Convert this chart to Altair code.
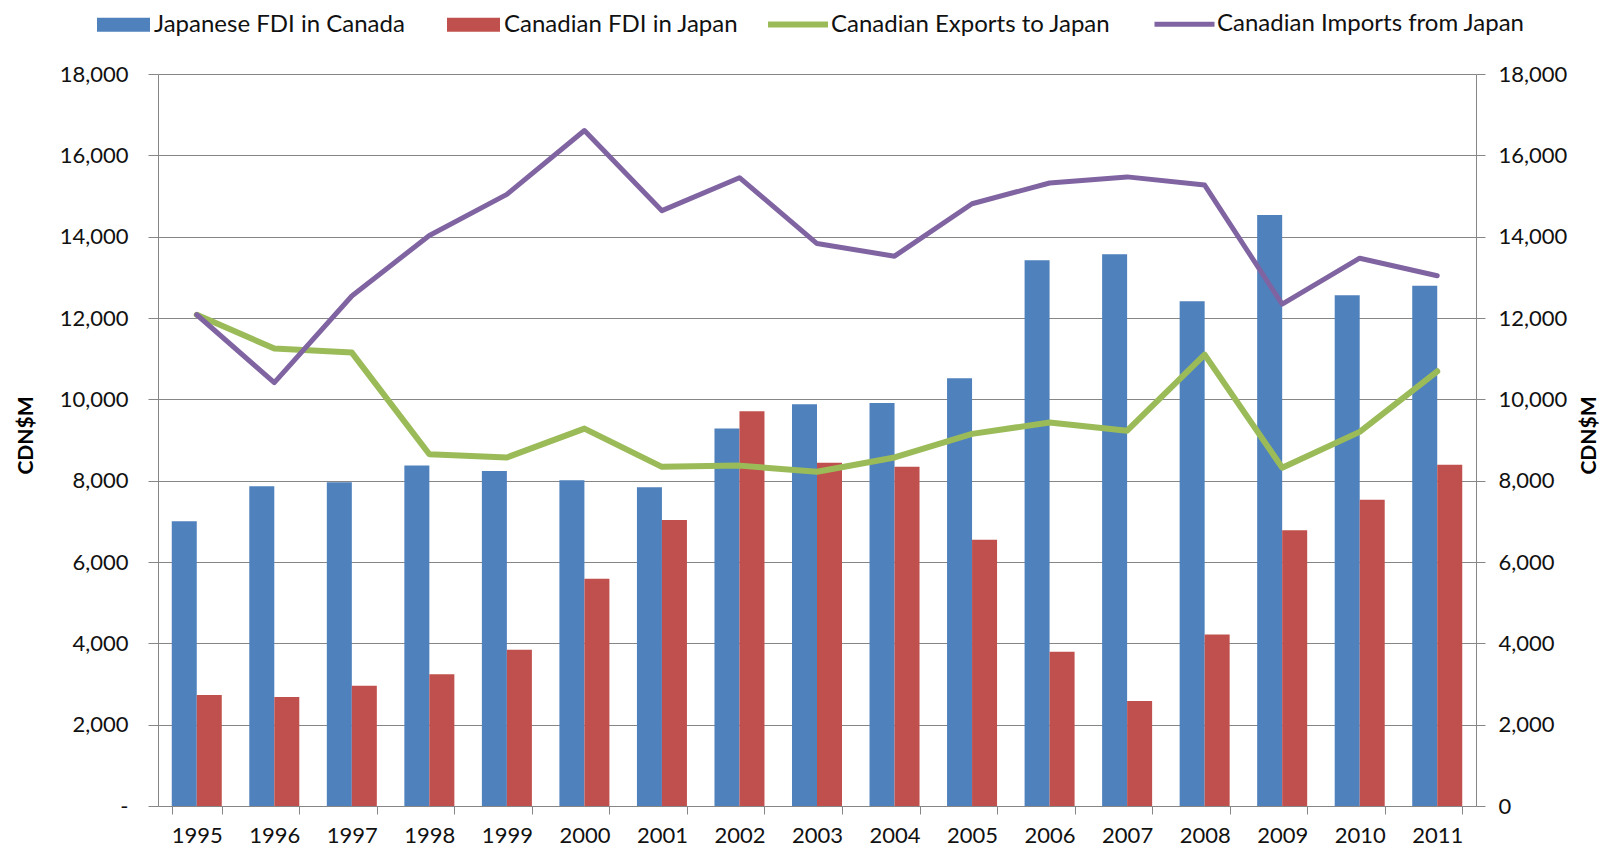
import altair as alt
import pandas as pd

years = [str(y) for y in range(1995, 2012)]
jp_fdi_in_canada = [7000, 7860, 7960, 8370, 8240, 8010, 7840, 9280, 9880, 9910,
                    10520, 13420, 13570, 12410, 14530, 12560, 12790]
ca_fdi_in_japan = [2730, 2680, 2960, 3240, 3840, 5590, 7030, 9710, 8440, 8340,
                   6550, 3790, 2580, 4220, 6780, 7530, 8390]
ca_exports_to_japan = [12080, 11250, 11150, 8650, 8570, 9280, 8340, 8370, 8220, 8570,
                       9150, 9430, 9230, 11100, 8320, 9200, 10690]
ca_imports_from_japan = [12080, 10410, 12540, 14030, 15040, 16610, 14640, 15450, 13830, 13520,
                         14810, 15320, 15470, 15270, 12340, 13470, 13040]

bar_series = ["Japanese FDI in Canada", "Canadian FDI in Japan"]
line_series = ["Canadian Exports to Japan", "Canadian Imports from Japan"]
bar_colors = ["#4F81BD", "#C0504D"]
line_colors = ["#9BBB59", "#8064A2"]
tick_values = list(range(0, 18001, 2000))

df = pd.DataFrame({
    "Year": years,
    bar_series[0]: jp_fdi_in_canada,
    bar_series[1]: ca_fdi_in_japan,
    line_series[0]: ca_exports_to_japan,
    line_series[1]: ca_imports_from_japan,
})

GRAY = "#868686"
FONT = "Lato"

x_enc = alt.X(
    "Year:N", sort=years,
    scale=alt.Scale(paddingInner=0.355, paddingOuter=0.1775),
    axis=alt.Axis(title=None, labelAngle=0, tickBand="extent", tickSize=8,
                  labelPadding=11, grid=False, domainColor=GRAY, tickColor=GRAY,
                  labelFont=FONT, labelFontSize=22, labelColor="#111111"),
)

base = alt.Chart(df)

bars = base.transform_fold(bar_series, as_=["series", "value"]).mark_bar().encode(
    x=x_enc,
    xOffset=alt.XOffset("series:N", sort=bar_series,
                        scale=alt.Scale(paddingInner=0, paddingOuter=0)),
    y=alt.Y("value:Q", scale=alt.Scale(domain=[0, 18000], nice=False),
            axis=alt.Axis(values=tick_values, title="CDN$M",
                          labelExpr="datum.value == 0 ? '-' : format(datum.value, ',')",
                          tickSize=10, labelPadding=20, grid=True, gridColor=GRAY,
                          domainColor=GRAY, tickColor=GRAY,
                          labelFont=FONT, labelFontSize=22, labelColor="#111111",
                          titleFont=FONT, titleFontSize=21, titleFontWeight="bold",
                          titleColor="#000000", titleAngle=270, titleAlign="center",
                          titleBaseline="middle", titleX=-132, titleY=361)),
    fill=alt.Fill("series:N", sort=bar_series,
                  scale=alt.Scale(domain=bar_series, range=bar_colors),
                  legend=alt.Legend(orient="none", legendX=-61, legendY=-76,
                                    direction="horizontal", title=None,
                                    symbolType="M-1,-0.264H1V0.264H-1Z",
                                    symbolSize=2809, symbolStrokeWidth=0,
                                    labelFont=FONT, labelFontSize=24, labelLimit=0,
                                    labelColor="#111111", labelOffset=4,
                                    columnPadding=42, padding=0)),
)

lines = base.transform_fold(line_series, as_=["series", "value"]).mark_line(
    strokeCap="round", strokeJoin="round"
).encode(
    x=x_enc,
    y=alt.Y("value:Q", scale=alt.Scale(domain=[0, 18000], nice=False),
            axis=alt.Axis(orient="right", values=tick_values, title="CDN$M",
                          labelExpr="format(datum.value, ',')",
                          tickSize=9, labelPadding=13, grid=False,
                          domainColor=GRAY, tickColor=GRAY,
                          labelFont=FONT, labelFontSize=22, labelColor="#111111",
                          titleFont=FONT, titleFontSize=21, titleFontWeight="bold",
                          titleColor="#000000", titleAngle=270, titleAlign="center",
                          titleBaseline="middle", titleX=113, titleY=361)),
    stroke=alt.Stroke("series:N", sort=line_series,
                      scale=alt.Scale(domain=line_series, range=line_colors),
                      legend=alt.Legend(orient="none", legendX=607, legendY=-82.5,
                                        direction="horizontal", title=None,
                                        symbolType="stroke", symbolSize=3600,
                                        symbolStrokeWidth=6,
                                        labelFont=FONT, labelFontSize=24, labelLimit=0,
                                        labelColor="#111111", labelOffset=0,
                                        columnPadding=33, padding=0)),
    strokeWidth=alt.StrokeWidth("series:N",
                                scale=alt.Scale(domain=line_series, range=[6, 5]),
                                legend=None),
)

chart = alt.layer(bars, lines).resolve_scale(
    y="independent"
).properties(
    width=1318, height=732,
    padding={"left": 150, "top": 66, "right": 126, "bottom": 45},
    autosize=alt.AutoSizeParams(type="none"),
).configure_view(stroke=None)

chart.save("out.html", embed_options={"renderer": "svg", "actions": False})
